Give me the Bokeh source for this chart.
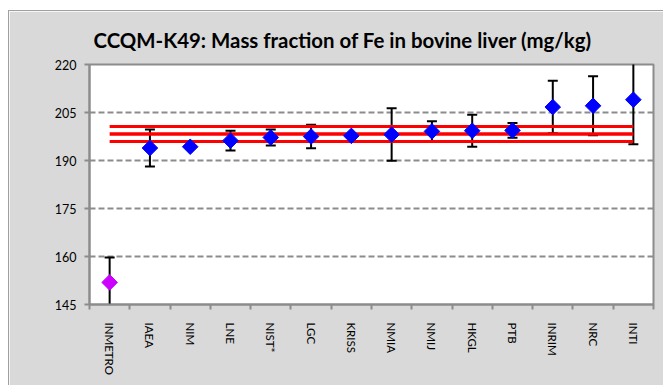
import numpy as np
from bokeh.plotting import figure
from bokeh.models import Range1d, FixedTicker, ColumnDataSource
from bokeh.embed import file_html
from bokeh.resources import INLINE

labs = ["INMETRO", "IAEA", "NIM", "LNE", "NIST*", "LGC", "KRISS", "NMIA",
        "NMIJ", "HKGL", "PTB", "INRIM", "NRC", "INTI"]
vals = [151.9, 193.9, 194.3, 196.2, 197.2, 197.5, 197.7, 198.1,
        199.1, 199.3, 199.4, 206.7, 207.1, 209.0]
unc = [7.8, 5.8, 0.5, 3.1, 2.5, 3.7, 0.5, 8.2,
       3.2, 5.0, 2.3, 8.2, 9.2, 13.9]
kcrv = 198.3
kcrv_u = 2.35
yticks = [145, 160, 175, 190, 205, 220]
colors = ["#cc00ff"] + ["#0000ff"] * (len(labs) - 1)

xs = [i + 0.5 for i in range(len(labs))]
src = ColumnDataSource(dict(
    x=xs, y=vals,
    lo=[v - u for v, u in zip(vals, unc)],
    hi=[v + u for v, u in zip(vals, unc)],
    c=colors))

p = figure(width=655, height=375, output_backend="svg", toolbar_location=None,
           x_range=Range1d(0, len(labs)), y_range=Range1d(145, 220),
           min_border_left=80, min_border_right=11, min_border_top=53,
           min_border_bottom=82)
p.margin = (10, 0, 0, 8)
p.styles = {"border-left": "1px solid #a0a0a0", "border-top": "1px solid #a0a0a0"}
p.border_fill_color = "#d9d9d9"
p.background_fill_color = "white"
p.outline_line_color = "#8c8c8c"
p.outline_line_width = 2

p.title.text = "CCQM-K49: Mass fraction of Fe in bovine liver (mg/kg)"
p.title.align = "left"
p.title.text_font = "Lato"
p.title.text_font_size = "20.4px"
p.title.text_font_style = "bold"
p.title.text_color = "black"
p.title.offset = 4
p.title.standoff = 25

# axes
p.xaxis.ticker = FixedTicker(ticks=xs, minor_ticks=list(range(len(labs) + 1)))
p.xaxis.major_label_overrides = {x: l for x, l in zip(xs, labs)}
p.xaxis.major_label_orientation = "vertical"
p.xaxis.major_tick_line_color = None
p.xaxis.minor_tick_line_color = "#8c8c8c"
p.xaxis.minor_tick_line_width = 2
p.xaxis.minor_tick_out = 5
p.xaxis.minor_tick_in = 0
p.xaxis.major_label_standoff = 12

p.yaxis.ticker = FixedTicker(ticks=yticks, minor_ticks=[])
p.yaxis.major_tick_line_color = "#8c8c8c"
p.yaxis.major_tick_line_width = 2
p.yaxis.major_tick_out = 5
p.yaxis.major_tick_in = 0
p.yaxis.major_label_standoff = 8

for ax in (p.xaxis, p.yaxis):
    ax.axis_line_color = "#8c8c8c"
    ax.axis_line_width = 2
    ax.major_label_text_font = "Lato"
    ax.major_label_text_color = "black"
p.yaxis.major_label_text_font_size = "12.5px"
p.xaxis.major_label_text_font_size = "11.5px"

p.xgrid.grid_line_color = None
p.ygrid.grid_line_color = "#8c8c8c"
p.ygrid.grid_line_width = 2
p.ygrid.grid_line_dash = "6 3"

# error bars
p.segment(x0="x", y0="lo", x1="x", y1="hi", source=src, line_color="black", line_width=2)
p.scatter(x="x", y="lo", source=src, marker="dash", size=10, line_color="black", line_width=2)
p.scatter(x="x", y="hi", source=src, marker="dash", size=10, line_color="black", line_width=2)

# reference value lines
for yv, lw in ((kcrv + kcrv_u, 3), (kcrv, 3.5), (kcrv - kcrv_u, 3)):
    p.line(x=[xs[0], xs[-1]], y=[yv, yv], line_color="red", line_width=lw)

# points
p.scatter(x="x", y="y", source=src, marker="square", angle=np.pi / 4, size=11,
          fill_color="c", line_color="c")

open("out.html", "w").write(file_html(p, INLINE))
